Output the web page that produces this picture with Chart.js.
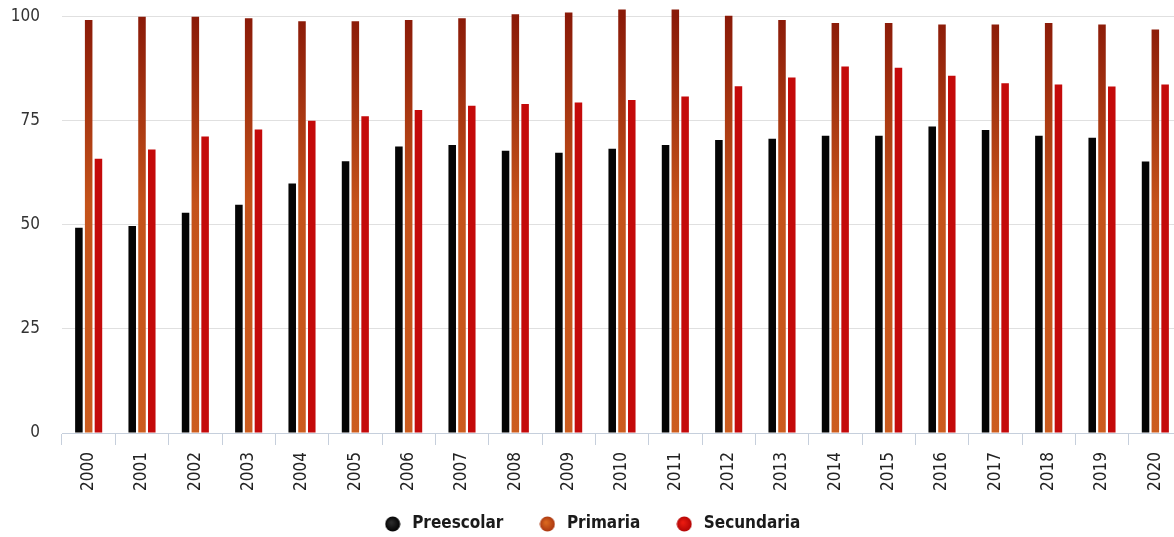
<!DOCTYPE html>
<html>
<head>
<meta charset="utf-8">
<script src="https://cdn.jsdelivr.net/npm/chart.js@4"></script>
<style>
  html, body { margin: 0; padding: 0; background: #fff; overflow: hidden; }
  #wrap { width: 1182px; height: 537px; }
</style>
</head>
<body>
<div id="wrap"><canvas id="tasas"></canvas></div>
<script>
"use strict";
const years = ["2000", "2001", "2002", "2003", "2004", "2005", "2006", "2007", "2008", "2009", "2010",
  "2011", "2012", "2013", "2014", "2015", "2016", "2017", "2018", "2019", "2020"];
const preescolar = [49.3, 49.7, 52.9, 54.8, 59.9, 65.3, 68.8, 69.2, 67.8, 67.3, 68.3,
  69.2, 70.4, 70.7, 71.4, 71.4, 73.6, 72.8, 71.4, 70.9, 65.2];
const primaria = [99.2, 100, 100, 99.6, 98.9, 98.9, 99.2, 99.6, 100.6, 101, 101.7,
  101.7, 100.2, 99.2, 98.5, 98.5, 98.1, 98.1, 98.5, 98.1, 96.9];
const secundaria = [65.9, 68.1, 71.2, 72.9, 75, 76.1, 77.6, 78.6, 79, 79.4, 80,
  80.8, 83.3, 85.4, 88, 87.7, 85.8, 84, 83.7, 83.2, 83.7];
const yTicks = [0, 25, 50, 75, 100];

const fontFam = "'DejaVu Sans Condensed', 'DejaVu Sans', sans-serif";

// degradado de las barras de primaria
const primariaColor = (ctx) => {
  const chart = ctx.chart;
  if (!chart.chartArea) return "#b8400f";
  const y = chart.scales.y;
  const g = chart.ctx.createLinearGradient(0, y.getPixelForValue(100), 0, y.getPixelForValue(0));
  g.addColorStop(0, "#8a1a08");
  g.addColorStop(0.45, "#c4521a");
  g.addColorStop(1, "#cc5c1e");
  return g;
};

// puntos de la leyenda con sombreado
const dot = (inner, outer) => {
  const c = document.createElement("canvas");
  c.width = 16;
  c.height = 16;
  const x = c.getContext("2d");
  const g = x.createRadialGradient(6.5, 6.5, 1, 8, 8, 8);
  g.addColorStop(0, inner);
  g.addColorStop(1, outer);
  x.fillStyle = g;
  x.beginPath();
  x.arc(8, 8, 7.5, 0, Math.PI * 2);
  x.fill();
  return c;
};

const config = {
  type: "bar",
  data: {
    labels: years,
    datasets: [
      { label: "Preescolar", data: preescolar, backgroundColor: "#050505", pointStyle: dot("#2a2a2a", "#000") },
      { label: "Primaria", data: primaria, backgroundColor: primariaColor, pointStyle: dot("#d8661e", "#a83410") },
      { label: "Secundaria", data: secundaria, backgroundColor: "#c40a0a", pointStyle: dot("#e81a10", "#b00404") },
    ],
  },
  options: {
    responsive: true,
    maintainAspectRatio: false,
    animation: false,
    layout: { padding: { top: 0, left: 0, right: 0, bottom: -15 } },
    datasets: { bar: { categoryPercentage: 0.55, barPercentage: 0.77, borderWidth: 0 } },
    plugins: {
      tooltip: { enabled: false },
      legend: {
        position: "bottom",
        labels: {
          usePointStyle: true,
          pointStyleWidth: 22,
          boxHeight: 16,
          padding: 33,
          color: "#1a1a1a",
          font: { family: fontFam, size: 17, weight: "bold" },
        },
      },
    },
    scales: {
      x: {
        grid: { drawOnChartArea: false, drawTicks: true, tickLength: 12, color: "#c6cfdc", offset: true },
        border: { display: true, color: "#c6cfdc" },
        ticks: { minRotation: 90, maxRotation: 90, padding: 7, color: "#222", font: { family: fontFam, size: 17 } },
        afterFit: (s) => { s.height = 59; s.paddingLeft = 0; s.paddingRight = 0; },
      },
      y: {
        min: 0,
        max: 104,
        grid: { color: "#e0e0e0", drawTicks: false },
        border: { display: false },
        ticks: { padding: 22, color: "#333", font: { family: fontFam, size: 17 } },
        afterBuildTicks: (s) => { s.ticks = yTicks.map((v) => ({ value: v })); },
        afterFit: (s) => { s.width = 62; s.paddingTop = 0; s.paddingBottom = 0; },
      },
    },
  },
  plugins: [{
    id: "subirLeyenda",
    afterLayout: (chart) => {
      chart.legend.top -= 9.5;
      chart.legend.bottom -= 9.5;
    },
  }],
};

const tasasChart = new Chart(document.getElementById("tasas"), config);
</script>
</body>
</html>
